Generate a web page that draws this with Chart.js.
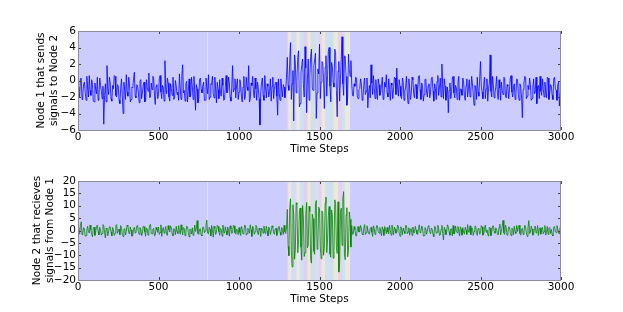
<!DOCTYPE html>
<html><head><meta charset="utf-8">
<script src="https://cdn.jsdelivr.net/npm/chart.js@4.4.0/dist/chart.umd.min.js"></script>
<style>
html,body{margin:0;padding:0;background:#fff;width:623px;height:312px;overflow:hidden;}
canvas{position:absolute;left:0;}
#c1{top:0;}
#c2{top:156px;}
</style></head><body>
<canvas id="c1" width="623" height="156"></canvas>
<canvas id="c2" width="623" height="156"></canvas>
<script>
// readings are taken every 10 time steps (t = 0,10,...,3000) and in between (t = 5,15,...,2995)
const sampleEvery = 10;

// Node 1 (sender) – readings at t = 0,10,20,...,3000
const node1At10 = [
-0.8,-2.1,0.3,-1.6,-0.2,-2.4,-0.9,0.6,-1.8,-0.5,-2.6,-1.1,0.4,-1.9,-0.6,-2.2,-5.3,-0.4,1.8,-1.7,
-0.3,-2.5,-1.0,0.5,-2.0,-0.7,-2.8,0.2,-4.0,-1.2,0.7,-1.9,-0.4,-2.3,-0.9,1.0,-2.1,-0.6,-2.7,0.1,
-1.5,-0.2,-2.4,-0.8,0.9,-2.0,-1.1,0.3,-2.9,-0.5,-1.7,0.6,-2.2,-0.9,2.4,-1.6,-0.3,-2.5,-1.0,0.4,
-2.1,-0.6,-1.4,0.8,-2.3,1.9,-1.2,-0.4,-2.6,0.2,-1.8,-0.7,0.5,-3.6,-1.0,-2.2,0.3,-1.5,-0.2,-2.4,
-0.9,0.7,-2.0,-0.5,-1.6,0.4,-2.7,-1.1,0.1,-1.9,-0.6,-2.3,0.6,-1.3,-0.3,-2.5,1.8,-1.0,-2.1,0.2,
-1.4,-0.4,-2.6,0.5,-1.7,-0.8,1.8,-2.2,-0.6,-1.5,0.3,-2.4,-1.0,-5.4,-0.3,-1.8,0.6,-2.1,-0.7,-1.3,
-2.5,0.4,-1.1,-0.2,-4.2,-1.6,0.2,-2.0,-0.8,-1.2,2.8,-1.2,4.6,-0.4,-4.9,2.2,0.3,3.6,-2.8,1.9,
-0.5,4.1,-3.9,2.6,0.4,3.8,-1.2,2.5,-4.6,1.4,4.4,-0.2,2.1,-3.4,3.0,0.6,4.0,-2.6,1.7,-0.8,
3.4,-4.4,2.3,0.1,5.3,-1.8,2.9,-3.0,3.2,0.5,-0.3,-1.9,-0.7,0.2,-2.2,-1.0,-0.4,-2.0,0.3,-1.3,
-3.3,-0.6,1.9,-1.7,-0.9,0.1,-2.3,-0.5,-1.4,0.4,-2.0,-0.8,-1.5,0.2,-2.4,-0.6,-1.1,0.3,1.5,-1.9,
-0.7,-2.2,-0.2,-1.3,0.5,-2.8,-0.9,-1.6,0.1,-2.1,-0.5,-1.2,0.6,-2.3,-0.8,-1.7,0.2,-2.0,-0.4,-1.4,
0.4,-2.5,-1.0,-0.1,-1.8,0.3,2.0,-2.2,-0.7,-1.5,-3.9,-0.3,-1.6,0.5,-2.1,-0.9,-0.2,-2.4,-1.1,0.3,
-1.8,-0.6,-2.0,0.1,-1.3,-0.4,-3.0,-0.8,0.4,-1.9,2.3,-1.4,-0.5,-2.2,0.2,-1.0,3.1,-2.0,-0.6,-1.5,
0.5,-2.3,-0.9,-0.2,-1.7,0.3,-2.1,-0.7,-1.2,0.6,-2.0,-0.4,-1.6,0.1,-2.4,-0.8,-4.5,-0.3,0.4,-1.9,
-1.1,-0.5,-2.2,0.2,-1.4,-2.8,-0.6,0.5,-1.8,-1.0,-0.2,-2.1,0.3,-1.5,-0.7,-2.3,0.4,-1.2,-0.5,-3.1,
-1.0
];
// Node 1 – readings at t = 5,15,...,2995
const node1At5 = [
-1.9,0.2,-2.3,-0.4,-1.5,0.5,-2.0,-1.2,0.1,-2.5,-0.3,-1.6,-2.4,0.3,-1.3,-0.7,-1.8,-2.6,-0.9,0.4,
-2.2,-0.6,0.6,-1.8,-0.5,-2.4,-1.0,-1.7,-0.2,-2.3,-1.4,0.4,-2.6,-0.8,0.2,-1.9,-0.5,-1.5,-0.1,-2.2,
-0.6,-2.6,0.1,-1.3,-2.1,-0.3,0.5,-1.9,-0.7,-2.2,0.2,-1.4,-0.6,-2.5,-1.0,0.3,-2.0,-0.4,-1.8,-2.3,
0.0,-1.7,-2.4,-0.9,0.6,-1.5,-2.5,-0.1,-1.3,-2.0,0.4,-2.3,-1.2,-0.5,-2.7,0.1,-1.1,-0.6,-2.4,0.3,
-1.6,-2.3,-0.4,0.5,-2.1,-1.0,-0.2,-2.2,-1.6,0.3,-2.4,-0.7,-1.5,0.4,-2.0,-0.9,-1.4,0.2,-0.5,-2.3,
0.1,-1.9,-0.8,-2.3,0.4,-1.2,-2.6,-0.3,0.5,-2.1,-1.0,-0.2,-2.2,-1.5,0.3,-2.4,-0.9,-0.4,-2.0,0.2,
-0.7,-2.2,-0.3,-1.9,0.2,-2.4,-1.0,-0.5,-2.1,0.4,-0.6,2.4,-2.3,1.2,3.1,-1.5,2.8,-3.2,0.9,2.6,
-2.0,1.5,0.2,-2.4,2.9,-0.9,1.8,3.3,-1.5,0.8,-2.2,2.3,0.4,1.6,-1.9,3.5,-0.7,2.2,-0.3,3.8,
-1.2,1.1,-2.5,2.6,-0.4,3.0,0.5,-2.0,1.3,2.4,-1.8,-0.4,0.4,-2.0,-1.1,0.2,-2.4,-0.6,-1.7,0.3,
-1.5,-2.1,-0.3,0.6,-2.2,-1.4,0.2,-1.8,-0.6,-2.3,-0.2,0.7,-2.0,-1.1,-0.3,-2.2,0.4,-1.7,-0.8,0.1,
-1.9,0.3,-2.4,-0.8,-1.5,0.2,-2.3,0.4,-1.6,-0.5,-2.2,0.5,-1.1,-0.3,-2.5,0.1,-1.4,-0.7,-2.1,0.3,
-1.3,-0.4,-2.3,0.6,-0.9,-2.0,-0.5,0.2,-2.4,-0.8,-1.2,-2.2,0.3,-1.5,-0.6,-2.3,0.5,-1.0,-1.8,-0.2,
-2.4,0.2,-1.1,-2.0,0.5,-1.7,-0.6,-2.3,-1.4,0.3,-0.7,-2.2,0.4,-1.0,-2.5,-0.3,-1.3,0.5,-2.1,-0.8,
-1.6,0.1,-2.4,-1.2,0.4,-1.9,-0.5,-2.2,0.3,-1.4,-0.8,-2.3,0.2,-1.7,-0.4,-2.0,-1.1,0.5,-2.2,-0.6,
0.3,-2.4,-0.9,-1.6,0.4,-0.7,-2.2,-1.3,0.2,-2.0,-1.4,0.4,-2.3,-0.5,-1.8,0.2,-1.0,-2.4,-0.2,-1.6
];

// Node 2 (receiver) – readings at t = 0,10,20,...,3000
const node2At10 = [
1.2,-1.5,3.5,-0.8,0.6,-2.1,1.7,-1.0,0.3,-2.6,1.4,-0.5,2.2,-1.8,0.1,-1.2,1.9,-3.0,0.7,-0.6,
1.5,-2.2,0.4,-1.1,2.4,-0.3,-1.7,1.1,-2.5,0.8,-0.4,1.8,-1.4,0.2,-2.0,1.3,-0.7,2.1,-1.6,0.5,
-1.0,1.6,-2.3,0.6,-0.2,2.5,-1.3,0.9,-1.9,0.3,1.4,-0.8,-2.4,1.2,0.0,-1.5,2.0,-0.6,1.0,-2.1,
0.4,1.7,-1.2,-0.3,2.3,-1.8,0.8,-0.5,1.5,-2.6,0.2,1.1,-1.0,-0.4,4.0,-1.6,0.7,-2.2,1.3,-0.2,
4.2,-1.4,0.5,2.0,-2.7,0.9,-0.6,1.6,-1.9,0.3,2.2,-1.1,-0.2,1.4,-2.3,0.6,-0.9,1.9,-1.5,0.1,
1.2,-2.0,0.4,-0.7,1.8,-1.3,0.0,2.3,-2.4,0.8,-0.5,1.5,-1.7,0.3,1.0,-1.1,-0.4,1.7,-2.2,0.6,
-0.2,1.3,-1.5,0.9,-0.8,1.6,-1.9,0.4,2.1,-1.2,8.5,-10.2,12.8,-14.7,6.3,-7.8,10.5,-4.2,9.1,-12.0,
5.4,-8.9,11.3,-6.1,7.7,-13.2,4.8,-9.6,12.1,-5.0,8.8,-11.4,6.9,-7.3,13.5,-3.8,9.7,-10.8,5.9,-8.1,
10.9,-9.3,-16.8,7.2,-6.0,15.7,-11.8,9.2,-8.0,4.5,2.0,-1.3,0.4,-2.2,1.6,-0.5,0.9,-1.8,2.4,-0.9,
0.2,-1.5,1.3,-2.4,0.7,-0.3,1.8,-1.1,-0.4,1.5,-2.0,0.6,1.2,-1.4,0.0,2.2,-1.7,0.5,-0.8,1.6,
-2.3,0.3,1.0,-1.2,2.0,-0.6,-1.9,0.8,1.4,-0.9,0.2,-1.6,2.3,-0.4,1.1,-2.1,0.6,-0.2,1.7,-1.3,
0.4,-2.5,1.5,-0.7,0.9,-1.8,2.1,-3.8,0.3,-0.5,1.4,-1.9,0.7,2.0,-1.0,-0.3,1.6,-2.2,0.5,1.2,
-1.5,0.1,2.4,-0.8,-1.7,0.9,-0.4,1.8,-2.0,0.6,-0.9,1.5,-1.4,2.2,0.3,-2.3,1.0,-0.6,1.9,-1.1,
0.4,-1.8,2.6,-0.2,4.1,-1.6,0.8,-0.7,1.3,-2.1,0.5,1.7,-1.2,-0.4,2.1,-1.9,0.9,-0.5,1.4,-2.4,
4.0,-0.8,0.6,-1.5,1.8,-0.3,-2.0,1.1,0.2,-1.3,2.0,-0.7,-1.6,1.2,0.4,-2.2,1.6,-0.9,0.7,-1.4,
0.5
];
// Node 2 – readings at t = 5,15,...,2995
const node2At5 = [
-0.9,2.0,-1.7,1.1,-2.3,0.4,-0.6,2.2,-1.4,0.9,-2.0,1.6,-0.3,1.3,-1.9,2.4,-0.8,1.0,-2.2,1.5,
-0.5,1.2,-2.0,1.9,-1.1,0.6,2.0,-1.5,0.3,-1.8,2.2,-0.9,1.4,-2.3,0.7,-1.0,1.8,-0.4,1.2,-2.1,
1.7,-0.6,1.0,-1.9,2.1,-1.2,0.5,-2.2,1.3,-0.8,-1.6,2.3,0.4,-1.1,1.6,-2.0,0.3,1.9,-1.3,0.8,
-1.7,-0.4,2.0,-1.5,0.2,1.2,-2.1,1.8,-0.7,0.6,-1.4,-2.0,2.2,1.0,-1.2,0.5,-1.8,1.4,-0.9,2.0,
-1.1,1.3,-2.2,0.4,1.7,-1.6,2.1,-0.5,0.8,-2.3,-0.4,1.5,-1.8,0.2,1.9,-1.2,2.0,-0.9,0.6,-1.7,
-0.7,1.6,-1.4,2.2,-1.9,0.9,-1.1,0.3,1.7,-1.5,2.1,-0.6,1.0,-2.4,0.5,1.8,-1.3,-0.2,1.4,-1.6,
1.9,-1.0,0.6,-2.0,1.5,-0.7,1.2,-1.6,-0.5,1.0,-6.4,9.3,-8.1,10.4,-11.6,11.2,-9.0,7.4,-6.8,10.1,
-10.5,6.2,-7.0,9.8,-11.7,6.6,-8.4,10.7,-7.6,9.4,-6.3,7.9,-10.0,11.1,-8.9,6.0,-9.5,8.3,-11.2,12.4,
-7.1,11.6,-13.0,9.0,12.9,-9.8,6.3,-10.6,7.5,-6.7,-1.5,1.6,-2.1,0.8,-0.6,2.0,-1.4,0.7,-1.6,1.9,
-1.2,0.9,-0.7,1.9,-1.6,2.0,-0.5,1.2,-2.1,0.4,1.6,-1.3,-0.6,2.1,-1.9,0.5,1.4,-1.1,2.2,-0.8,
1.5,-1.7,-0.4,2.0,-1.3,1.1,0.5,-2.0,-0.8,1.7,-1.4,0.9,-0.9,1.8,-2.2,1.2,-1.5,1.9,-0.6,1.0,
-1.6,1.6,-1.2,2.1,-2.0,0.4,-1.1,1.3,-1.7,2.3,-0.5,0.6,-2.2,-1.4,1.8,-0.9,0.2,1.5,-1.9,-0.6,
1.3,-1.6,-0.5,1.9,1.0,-2.0,1.7,-1.2,0.8,-1.5,2.0,-1.9,0.9,-0.7,-1.6,1.4,-2.1,1.8,-0.3,1.1,
-1.4,1.2,-1.8,1.6,-0.9,2.2,-1.9,1.5,-0.8,1.0,-1.7,-0.5,2.0,1.3,-1.2,0.6,-1.6,2.1,-1.0,0.9,
-1.3,1.8,-1.9,0.9,-1.0,2.0,0.5,-1.5,1.3,-0.4,-1.9,1.6,0.8,-1.2,-1.7,1.4,-0.6,2.0,-1.1,1.2
];

// tick labels
const xTicks = [0, 500, 1000, 1500, 2000, 2500, 3000];
const yTicksTop = [-6, -4, -2, 0, 2, 4, 6];
const yTicksBottom = [-20, -15, -10, -5, 0, 5, 10, 15, 20];

// shaded intervals (time steps) and their colour kind
const stripeStart = [1296,1306,1326,1346,1356,1380,1406,1426,1446,1476,1496,1512,1536,1566,1586,1616,1636,1656];
const stripeEnd   = [1306,1326,1346,1356,1380,1406,1426,1446,1476,1496,1512,1536,1566,1586,1616,1636,1656,1690];
const stripeKind  = ['pink','yellow','cyan','peach','yellow','cyan','pink','yellow','green','white','pink','yellow','cyan','green','yellow','pink','cyan','yellow'];
// single marked time step
const markerSteps = [800];

const stripePalette = {
  pink:'rgba(255,214,214,0.55)', yellow:'rgba(255,250,200,0.6)', cyan:'rgba(205,240,240,0.55)',
  peach:'rgba(255,226,200,0.55)', green:'rgba(214,240,205,0.55)', white:'rgba(240,240,250,0.5)'
};

Chart.defaults.font.family = "'DejaVu Sans', sans-serif";
Chart.defaults.font.size = 10.5;
Chart.defaults.color = '#000';

// merge the two reading arrays into time-ordered points
function toPoints(at10, at5) {
  const pts = [];
  at10.forEach((v, i) => {
    pts.push({x: i * sampleEvery, y: v});
    if (i < at5.length) pts.push({x: i * sampleEvery + sampleEvery / 2, y: at5[i]});
  });
  return pts;
}

const panelPlugin = {
  id: 'panel',
  beforeDatasetsDraw(chart) {
    const {ctx, chartArea: a, scales: {x}} = chart;
    ctx.save();
    ctx.fillStyle = '#ccccff';
    ctx.fillRect(a.left, a.top, a.right - a.left, a.bottom - a.top);
    for (let i = 0; i < stripeStart.length; i++) {
      const x0 = x.getPixelForValue(stripeStart[i]);
      const x1 = x.getPixelForValue(stripeEnd[i]);
      ctx.fillStyle = stripePalette[stripeKind[i]];
      ctx.fillRect(x0, a.top, x1 - x0, a.bottom - a.top);
    }
    ctx.strokeStyle = 'rgba(240,240,250,0.55)';
    ctx.lineWidth = 1;
    markerSteps.forEach(t => {
      const px = Math.round(x.getPixelForValue(t)) + 0.5;
      ctx.beginPath(); ctx.moveTo(px, a.top); ctx.lineTo(px, a.bottom); ctx.stroke();
    });
    ctx.restore();
  },
  afterDatasetsDraw(chart) {
    const {ctx, chartArea: a, scales: {x, y}} = chart;
    ctx.save();
    ctx.strokeStyle = '#444';
    ctx.lineWidth = 1;
    ctx.beginPath();
    x.ticks.forEach(t => {
      const px = Math.round(x.getPixelForValue(t.value)) + 0.5;
      ctx.moveTo(px, a.bottom); ctx.lineTo(px, a.bottom - 3);
      ctx.moveTo(px, a.top); ctx.lineTo(px, a.top + 3);
    });
    y.ticks.forEach(t => {
      const py = Math.round(y.getPixelForValue(t.value)) + 0.5;
      ctx.moveTo(a.left, py); ctx.lineTo(a.left + 3, py);
      ctx.moveTo(a.right, py); ctx.lineTo(a.right - 3, py);
    });
    ctx.stroke();
    ctx.strokeStyle = '#8c8c9c';
    ctx.strokeRect(Math.round(a.left) + 0.5, Math.round(a.top) + 0.5,
                   Math.round(a.right - a.left) - 1, Math.round(a.bottom - a.top));
    ctx.restore();
  }
};

function makePanel(id, pts, color, yTicks, titleLines, padTop, padBottom, titlePad) {
  return new Chart(document.getElementById(id), {
    type: 'line',
    data: { datasets: [{ data: pts, borderColor: color, borderWidth: 1, pointRadius: 0, tension: 0, fill: false }] },
    options: {
      responsive: false, animation: false, parsing: false,
      layout: { padding: { left: 0, right: 62, top: padTop, bottom: padBottom } },
      plugins: { legend: { display: false }, tooltip: { enabled: false } },
      scales: {
        x: {
          type: 'linear', min: xTicks[0], max: xTicks[xTicks.length - 1],
          afterBuildTicks: s => { s.ticks = xTicks.map(v => ({value: v})); },
          afterFit: s => { s.height = 26; },
          grid: { display: false, drawTicks: false }, border: { display: false },
          ticks: { padding: 1, maxRotation: 0, autoSkip: false, callback: v => String(v) },
          title: { display: true, text: 'Time Steps', padding: { top: 0, bottom: 0 } }
        },
        y: {
          type: 'linear', min: yTicks[0], max: yTicks[yTicks.length - 1],
          afterBuildTicks: s => { s.ticks = yTicks.map(v => ({value: v})); },
          afterFit: s => { s.width = 78; },
          grid: { display: false, drawTicks: false }, border: { display: false },
          ticks: { padding: 2, autoSkip: false, callback: v => String(v).replace('-', '\u2212') },
          title: { display: true, text: titleLines, padding: { top: titlePad, bottom: 0 } }
        }
      }
    },
    plugins: [panelPlugin]
  });
}

makePanel('c1', toPoints(node1At10, node1At5), 'rgba(0,0,255,0.78)', yTicksTop,
  ['Node 1 that sends', 'signals to Node 2'], 31, 0, 35);
makePanel('c2', toPoints(node2At10, node2At5), 'rgba(0,128,0,0.78)', yTicksBottom,
  ['Node 2 that recieves', 'signals from Node 1'], 25, 6, 31);
</script>
</body></html>
